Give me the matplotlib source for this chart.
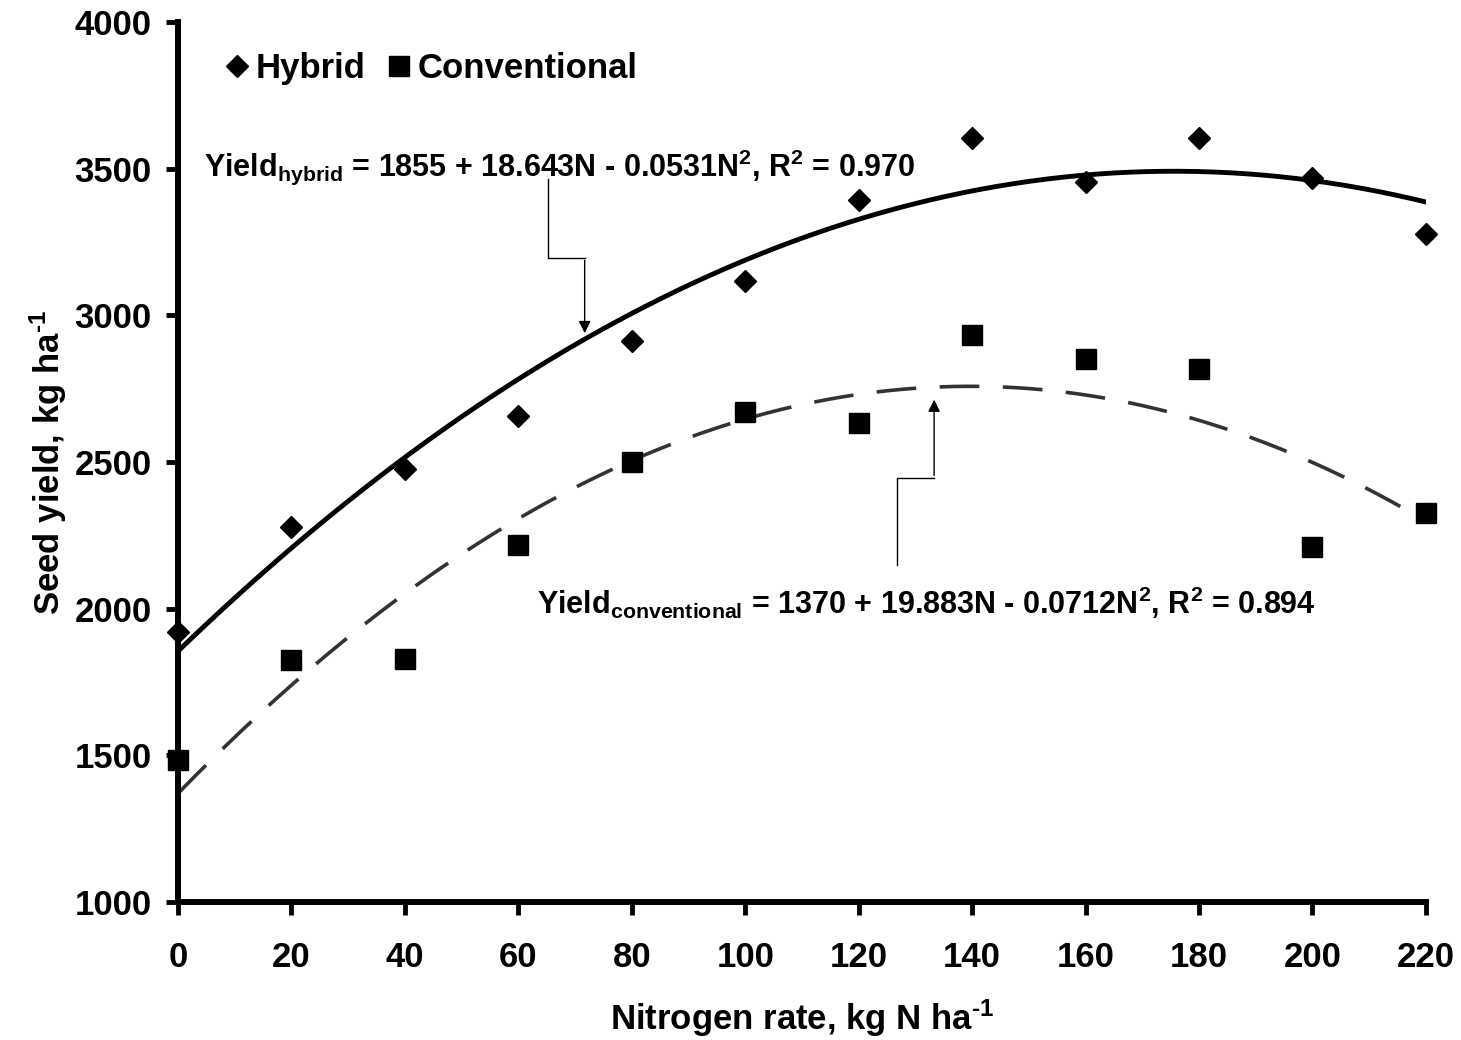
import numpy as np
import matplotlib
matplotlib.use("Agg")
import matplotlib.pyplot as plt

# Seed yield vs nitrogen rate, hybrid and conventional canola

nitrogen = [0, 20, 40, 60, 80, 100, 120, 140, 160, 180, 200, 220]
hybrid = [1920, 2278, 2476, 2657, 2913, 3117, 3393, 3605, 3455, 3605, 3468, 3278]
conventional = [1484, 1825, 1828, 2217, 2500, 2671, 2633, 2933, 2851, 2817, 2210, 2326]

# quadratic fit coefficients (intercept, linear, quadratic)
fit_hybrid = [1855, 18.643, -0.0531]
fit_conv = [1370, 19.883, -0.0712]

plt.rcParams["font.family"] = "Liberation Sans"
plt.rcParams["font.weight"] = "bold"
plt.rcParams["mathtext.fontset"] = "custom"
plt.rcParams["mathtext.rm"] = "Liberation Sans:bold"
plt.rcParams["mathtext.bf"] = "Liberation Sans:bold"
plt.rcParams["mathtext.it"] = "Liberation Sans:bold"

fig = plt.figure(figsize=(14.61, 10.40), dpi=100)
ax = fig.add_axes([0.1218, 0.1327, 0.8542, 0.8461])

n = np.linspace(0, 220, 300)
yh = fit_hybrid[0] + fit_hybrid[1] * n + fit_hybrid[2] * n ** 2
yc = fit_conv[0] + fit_conv[1] * n + fit_conv[2] * n ** 2

ax.plot(n, yh, color="black", lw=3.5, zorder=2)
ax.plot(n, yc, color="#333333", lw=2.6, dashes=(11, 6.5), zorder=2)

ax.plot(nitrogen, hybrid, "D", color="black", ms=11, label="Hybrid", clip_on=False, zorder=3)
ax.plot(nitrogen, conventional, "s", color="black", ms=15, label="Conventional", clip_on=False, zorder=3)

ax.set_xlim(0, 220)
ax.set_ylim(1000, 4000)
ax.set_xticks(range(0, 221, 20))
ax.set_yticks(range(1000, 4001, 500))

for s in ["top", "right"]:
    ax.spines[s].set_visible(False)
for s in ["left", "bottom"]:
    ax.spines[s].set_linewidth(4.3)

ax.tick_params(direction="out", length=9, width=3.5, labelsize=25, pad=10)
ax.tick_params(axis="x", pad=19)

ax.set_xlabel(r"Nitrogen rate, kg N ha$^{\text{-1}}$", fontsize=25, fontweight="bold", labelpad=17)
ax.set_ylabel(r"Seed yield, kg ha$^{\text{-1}}$", fontsize=25, fontweight="bold", labelpad=4)

leg = ax.legend(loc="upper left", ncol=2, frameon=False, fontsize=25,
                handletextpad=0.05, columnspacing=0.45, handlelength=1.0,
                bbox_to_anchor=(0.022, 0.982), borderaxespad=0)

# equation labels with elbow arrows
ax.text(4.6, 3505, r"Yield$_{\rm hybrid}$ = 1855 + 18.643N - 0.0531N$^{2}$, R$^{2}$ = 0.970",
        fontsize=22, fontweight="bold", va="center", ha="left")
ax.plot([65.2, 65.2, 71.7], [3465, 3196, 3196], color="black", lw=1)
ax.annotate("", xy=(71.7, 2930), xytext=(71.7, 3197),
            arrowprops=dict(arrowstyle="-|>", color="black", lw=1, mutation_scale=18))

ax.text(63.3, 2020, r"Yield$_{\rm conventional}$ = 1370 + 19.883N - 0.0712N$^{2}$, R$^{2}$ = 0.894",
        fontsize=22, fontweight="bold", va="center", ha="left")
ax.plot([126.7, 126.7, 133.3], [2150, 2446, 2446], color="black", lw=1)
ax.annotate("", xy=(133.3, 2722), xytext=(133.3, 2445),
            arrowprops=dict(arrowstyle="-|>", color="black", lw=1, mutation_scale=18))

fig.savefig("out.png", dpi=100)
